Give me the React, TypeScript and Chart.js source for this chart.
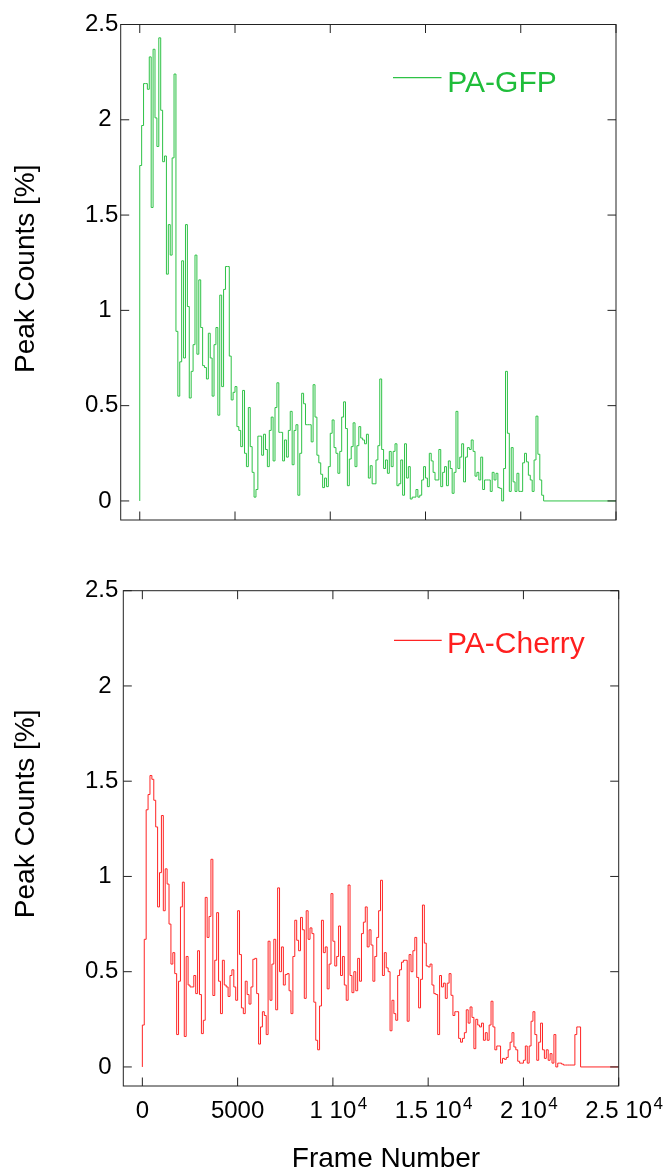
import React, { useEffect, useRef } from "react";
import { Chart, registerables } from "chart.js";

Chart.register(...registerables);

// ---------------- data ----------------
const BIN_FRAMES = 100; // each count value covers 100 frames
const X_MIN = -1000;
const X_MAX = 25000;
const Y_MIN = -0.1;
const Y_MAX = 2.5;

const X_TICKS = [0, 5000, 10000, 15000, 20000, 25000];
const X_TICK_LABELS = ["0", "5000", "1 10", "1.5 10", "2 10", "2.5 10"];
const X_TICK_EXPONENTS = ["", "", "4", "4", "4", "4"];
const Y_TICKS = [0, 0.5, 1, 1.5, 2, 2.5];
const Y_TICK_LABELS = ["0 ", "0.5", "1 ", "1.5", "2 ", "2.5"];

const X_TITLE = "Frame Number";
const Y_TITLE = "Peak Counts [%]";
const GFP_LABEL = "PA-GFP";
const CHERRY_LABEL = "PA-Cherry";

// Peak counts [%] per 100-frame bin, PA-GFP
const GFP_COUNTS = [
  1.76, 1.97, 2.19, 2.19, 2.16, 2.33, 1.54, 2.37, 2.01, 1.86,
  2.43, 2.05, 1.78, 1.81, 1.19, 1.45, 1.29, 1.80, 2.24, 0.89,
  0.55, 0.73, 1.26, 0.75, 1.45, 1.02, 0.54, 0.68, 0.82, 1.29,
  0.77, 1.16, 0.91, 0.71, 0.70, 0.64, 0.88, 0.75, 0.55, 0.82,
  0.91, 0.45, 1.08, 0.60, 1.11, 1.23, 1.23,
  0.76, 0.53, 0.57, 0.60, 0.39, 0.37, 0.285, 0.58, 0.25, 0.18,
  0.49, 0.285, 0.15, 0.02, 0.06, 0.34, 0.34, 0.24, 0.35, 0.27,
  0.18, 0.37, 0.44, 0.21, 0.49, 0.62, 0.36, 0.36, 0.21, 0.32,
  0.23, 0.37, 0.47, 0.19, 0.37, 0.40, 0.03, 0.25, 0.565, 0.51,
  0.40, 0.40, 0.40, 0.31, 0.61, 0.44, 0.24, 0.20, 0.14, 0.07,
  0.12, 0.075, 0.18,
  0.355, 0.425, 0.28, 0.25, 0.145, 0.26, 0.44, 0.52, 0.38, 0.08,
  0.22, 0.285, 0.41, 0.18, 0.29, 0.39, 0.33, 0.32, 0.30, 0.35,
  0.12, 0.185, 0.09, 0.09, 0.215, 0.29, 0.64, 0.27, 0.17, 0.215,
  0.145, 0.26, 0.18, 0.26, 0.30, 0.08, 0.09, 0.215, 0.03, 0.30,
  0.12, 0.18, 0.01, 0.02, 0.02, 0.06, 0.02, 0.03, 0.11, 0.18,
  0.12, 0.075, 0.25, 0.21, 0.15, 0.11, 0.11, 0.27, 0.075, 0.15,
  0.18, 0.08, 0.21, 0.17, 0.04, 0.15, 0.47, 0.17, 0.23, 0.30,
  0.10, 0.23, 0.28, 0.27, 0.32, 0.26, 0.13, 0.15, 0.11, 0.23,
  0.06, 0.11, 0.11, 0.11, 0.05, 0.15, 0.11, 0.145, 0.07, 0.066,
  0.0, 0.17, 0.68, 0.355, 0.05, 0.28, 0.10, 0.05, 0.145, 0.05,
  0.05, 0.20, 0.25, 0.205, 0.135, 0.11, 0.05, 0.215, 0.445, 0.245,
  0.11, 0.03, 0,
];

// Peak counts [%] per 100-frame bin, PA-Cherry
const CHERRY_COUNTS = [
  0.22, 0.67, 1.35, 1.43, 1.53, 1.51, 1.40, 1.26, 0.84, 1.02,
  1.32, 0.82, 1.04, 0.96, 0.75, 0.54, 0.60, 0.49, 0.17, 0.45,
  0.84, 0.97, 0.16, 0.58, 0.43, 0.42, 0.42, 0.48, 0.385, 0.61,
  0.38, 0.175, 0.245, 0.89, 0.68, 0.79, 1.09, 0.375, 0.56, 0.81,
  0.45, 0.28, 0.56, 0.43, 0.42, 0.37, 0.48, 0.51, 0.42, 0.35,
  0.82, 0.59, 0.31, 0.28, 0.45, 0.38, 0.33, 0.42, 0.565, 0.57,
  0.385, 0.12, 0.21, 0.29, 0.27, 0.17, 0.66, 0.35, 0.54, 0.67,
  0.30, 0.94, 0.50, 0.63, 0.43, 0.485, 0.49, 0.40, 0.28, 0.58,
  0.77, 0.665, 0.61, 0.785, 0.72, 0.36, 0.82, 0.67, 0.73, 0.70,
  0.34, 0.14, 0.09, 0.32, 0.77, 0.60, 0.63, 0.41, 0.54, 0.91,
  0.66,
  0.53, 0.58, 0.74, 0.48, 0.58, 0.43, 0.35, 0.955, 0.48, 0.39,
  0.50, 0.40, 0.57, 0.45, 0.70, 0.76, 0.84, 0.63, 0.72, 0.64,
  0.45, 0.58, 0.68, 0.82, 0.98, 0.48, 0.60, 0.52, 0.50, 0.19,
  0.35, 0.28, 0.245, 0.48, 0.51, 0.55, 0.56, 0.56, 0.24, 0.59,
  0.50, 0.61, 0.68, 0.47, 0.31, 0.46, 0.85, 0.65, 0.53, 0.525,
  0.54, 0.43, 0.385, 0.38, 0.17,
  0.48, 0.42, 0.44, 0.36, 0.44, 0.49, 0.376, 0.27, 0.29, 0.29,
  0.15, 0.13, 0.15, 0.18, 0.30, 0.23, 0.315, 0.26, 0.096, 0.25,
  0.22, 0.21, 0.23, 0.14, 0.18, 0.14, 0.22, 0.345, 0.21, 0.09,
  0.11, 0.11, 0.02, 0.045, 0.04, 0.05, 0.09, 0.13, 0.18, 0.105,
  0.09, 0.03, 0.02, 0.02, 0.035, 0.11, 0.02, 0.11, 0.24, 0.29,
  0.17, 0.035, 0.13, 0.23, 0.09, 0.045, 0.09, 0.035, 0.07, 0.02,
  0.17, 0.0, 0.02, 0.02, 0.015, 0.01, 0.01, 0.01, 0.01, 0.01,
  0.01, 0.17, 0.21, 0.21, 0,
];

// ---------------- styling ----------------
const FONT = "Liberation Sans, Arial, Helvetica, sans-serif";
const GFP_LINE = "#2ec246";
const GFP_TEXT = "#1fbd3a";
const CHERRY_LINE = "#ff2424";
const CHERRY_TEXT = "#ff1f1f";

function toSteps(counts: number[]) {
  const pts: { x: number; y: number }[] = [{ x: 0, y: 0 }];
  counts.forEach((v, i) => pts.push({ x: i * BIN_FRAMES, y: v }));
  pts.push({ x: X_MAX, y: 0 });
  return pts;
}

const decoPlugin = {
  id: "deco",
  afterDraw(chart: any, _args: any, o: any) {
    const { ctx, chartArea: a } = chart;
    const xs = chart.scales.x;
    const ys = chart.scales.y;
    ctx.save();
    // frame
    ctx.strokeStyle = "#222";
    ctx.lineWidth = 1;
    ctx.strokeRect(a.left, a.top, a.right - a.left, a.bottom - a.top);
    // inward ticks
    const TL = 8.5;
    ctx.beginPath();
    X_TICKS.forEach((v) => {
      const px = xs.getPixelForValue(v);
      ctx.moveTo(px, a.top);
      ctx.lineTo(px, a.top + TL);
      ctx.moveTo(px, a.bottom);
      ctx.lineTo(px, a.bottom - TL);
    });
    Y_TICKS.forEach((v) => {
      const py = ys.getPixelForValue(v);
      ctx.moveTo(a.left, py);
      ctx.lineTo(a.left + TL, py);
      ctx.moveTo(a.right, py);
      ctx.lineTo(a.right - TL, py);
    });
    ctx.stroke();

    // y title (rotated)
    ctx.save();
    ctx.fillStyle = "#000";
    ctx.font = `28px ${FONT}`;
    ctx.textAlign = "center";
    ctx.textBaseline = "middle";
    ctx.translate(26, (a.top + a.bottom) / 2 + o.yTitleShift);
    ctx.rotate(-Math.PI / 2);
    ctx.fillText(Y_TITLE, 0, 0);
    ctx.restore();

    // legend
    const lg = o.legend;
    ctx.strokeStyle = lg.lineColor;
    ctx.lineWidth = 1.2;
    ctx.beginPath();
    ctx.moveTo(a.right + lg.lineX0, a.top + lg.lineY);
    ctx.lineTo(a.right + lg.lineX1, a.top + lg.lineY);
    ctx.stroke();
    ctx.fillStyle = lg.textColor;
    ctx.font = `30px ${FONT}`;
    ctx.textAlign = "left";
    ctx.textBaseline = "alphabetic";
    ctx.fillText(lg.text, a.right + lg.textX, a.top + lg.textBaseline);

    // x exponents and x title
    if (o.xLabels) {
      ctx.fillStyle = "#000";
      X_TICKS.forEach((v, i) => {
        const exp = X_TICK_EXPONENTS[i];
        if (!exp) return;
        ctx.font = `24px ${FONT}`;
        const w = ctx.measureText(X_TICK_LABELS[i]).width;
        const px = xs.getPixelForValue(v);
        ctx.font = `17px ${FONT}`;
        ctx.textAlign = "left";
        ctx.fillText(exp, px + w / 2 + 1.5, xs.top + 23);
      });
      ctx.font = `28px ${FONT}`;
      ctx.textAlign = "center";
      ctx.fillText(X_TITLE, (a.left + a.right) / 2 + 15, chart.height - 6.7);
    }
    ctx.restore();
  },
};

function makeConfig(o: any) {
  return {
    type: "line",
    data: {
      datasets: [
        {
          label: o.label,
          data: toSteps(o.counts),
          borderColor: o.lineColor,
          borderWidth: 1,
          pointRadius: 0,
          stepped: "before",
          fill: false,
        },
      ],
    },
    options: {
      animation: false,
      responsive: false,
      events: [],
      layout: { padding: o.padding },
      plugins: {
        legend: { display: false },
        tooltip: { enabled: false },
        deco: {
          legend: o.legend,
          xLabels: o.xLabels,
          yTitleShift: o.yTitleShift,
        },
      },
      scales: {
        x: {
          type: "linear",
          min: X_MIN,
          max: X_MAX,
          display: o.xLabels,
          afterBuildTicks: (s: any) => {
            s.ticks = X_TICKS.map((v) => ({ value: v }));
          },
          ticks: {
            callback: (v: number) => X_TICK_LABELS[X_TICKS.indexOf(v)],
            font: { family: FONT, size: 24 },
            color: "#000",
            padding: 10.6,
            maxRotation: 0,
            autoSkip: false,
          },
          grid: { display: false, drawTicks: false },
          border: { display: false },
          afterFit: (s: any) => {
            s.height = o.xHeight;
          },
        },
        y: {
          type: "linear",
          min: Y_MIN,
          max: Y_MAX,
          afterBuildTicks: (s: any) => {
            s.ticks = Y_TICKS.map((v) => ({ value: v }));
          },
          ticks: {
            callback: (v: number) => Y_TICK_LABELS[Y_TICKS.indexOf(v)],
            font: { family: FONT, size: 24 },
            color: "#000",
            padding: o.yPad,
          },
          grid: { display: false, drawTicks: false },
          border: { display: false },
          title: { display: false },
          afterFit: (s: any) => {
            s.width = o.yWidth;
          },
        },
      },
    },
    plugins: [decoPlugin],
  };
}

export default function App() {
  const topRef = useRef<HTMLCanvasElement>(null);
  const botRef = useRef<HTMLCanvasElement>(null);

  useEffect(() => {
    const c1 = new Chart(
      topRef.current as HTMLCanvasElement,
      makeConfig({
        label: GFP_LABEL,
        counts: GFP_COUNTS,
        lineColor: GFP_LINE,
        padding: { left: 0, top: 24.5, right: 51, bottom: 35 },
        xLabels: false,
        xHeight: 0,
        yWidth: 120.7,
        yPad: 2.4,
        yTitleShift: -3.5,
        legend: {
          text: GFP_LABEL,
          lineColor: GFP_LINE,
          textColor: GFP_TEXT,
          lineX0: -223,
          lineX1: -174.5,
          lineY: 53.2,
          textX: -168.7,
          textBaseline: 67.2,
        },
      }) as any
    );
    const c2 = new Chart(
      botRef.current as HTMLCanvasElement,
      makeConfig({
        label: CHERRY_LABEL,
        counts: CHERRY_COUNTS,
        lineColor: CHERRY_LINE,
        padding: { left: 0, top: 35.7, right: 48.3, bottom: 0 },
        xLabels: true,
        xHeight: 88,
        yWidth: 123.3,
        yPad: 5,
        yTitleShift: -24.5,
        legend: {
          text: CHERRY_LABEL,
          lineColor: CHERRY_LINE,
          textColor: CHERRY_TEXT,
          lineX0: -224.7,
          lineX1: -177,
          lineY: 49.6,
          textX: -171.7,
          textBaseline: 62.6,
        },
      }) as any
    );
    return () => {
      c1.destroy();
      c2.destroy();
    };
  }, []);

  return (
    <div
      style={{
        position: "absolute",
        left: 0,
        top: 0,
        width: 667,
        height: 1174,
        background: "#fff",
      }}
    >
      <canvas
        ref={topRef}
        width={667}
        height={555}
        style={{ position: "absolute", left: 0, top: 0, display: "block" }}
      />
      <canvas
        ref={botRef}
        width={667}
        height={619}
        style={{ position: "absolute", left: 0, top: 555, display: "block" }}
      />
    </div>
  );
}
